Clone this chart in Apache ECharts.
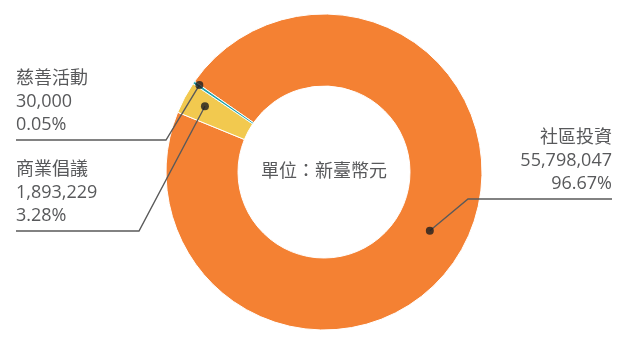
<!DOCTYPE html>
<html>
<head>
<meta charset="utf-8">
<script src="https://cdn.jsdelivr.net/npm/echarts@6/dist/echarts.min.js"></script>
<style>
  html, body { margin: 0; padding: 0; background: #fff; }
  #chart { width: 624px; height: 342px; }
</style>
</head>
<body>
<div id="chart"></div>
<script>
// data
var categories = ['社區投資', '商業倡議', '慈善活動'];
var amounts = [55798047, 1893229, 30000];
var unitText = '單位：新臺幣元';

// layout / style
var sliceColors = ['#F48133', '#F2C94F', '#1FA3AC'];
var CX = 324, CY = 172, R_IN = 86, R_OUT = 158, START = 145;
var dotRadius = [121, 136, 152];
var labelAnchor = [
    { bendX: 468, lineY: 199, endX: 612, side: 'right' },
    { bendX: 139, lineY: 231, endX: 16, side: 'left' },
    { bendX: 166, lineY: 140, endX: 16, side: 'left' }
];
var FONT = '"Open Sans", "Noto Sans CJK TC", sans-serif';
var TEXT = '#58595B';

var total = amounts.reduce(function (a, b) { return a + b; }, 0);
var dots = [];
var acc = 0;
amounts.forEach(function (v, i) {
    dots.push([dotRadius[i], acc + v / 2]);
    acc += v;
});

var chart = echarts.init(document.getElementById('chart'));

function dotPixel(i, p0) {
    var px = null;
    try { px = chart.convertToPixel({ polarIndex: 0 }, dots[i]); } catch (e) { px = null; }
    if (px && isFinite(px[0])) return px;
    var dx = p0[0] - CX, dy = p0[1] - CY, len = Math.sqrt(dx * dx + dy * dy);
    return [CX + dx / len * dotRadius[i], CY + dy / len * dotRadius[i]];
}

var pieBase = {
    type: 'pie',
    center: [CX, CY],
    radius: [R_IN, R_OUT],
    startAngle: START,
    clockwise: true,
    minAngle: 1,
    avoidLabelOverlap: false
};

chart.setOption({
    animation: false,
    polar: { center: [CX, CY], radius: R_OUT },
    angleAxis: { type: 'value', min: 0, max: total, startAngle: START, clockwise: true, show: false },
    radiusAxis: { type: 'value', min: 0, max: R_OUT, show: false },
    graphic: [{
        type: 'text', x: CX, y: CY, z: 20,
        style: { text: unitText, fill: TEXT, fontSize: 18, fontFamily: FONT, textAlign: 'center', textVerticalAlign: 'middle' }
    }],
    series: [
        // the ring itself
        echarts.util.merge({
            z: 2,
            itemStyle: { borderColor: '#fff', borderWidth: 1 },
            label: { show: false },
            labelLine: { show: false },
            data: categories.map(function (c, i) {
                return { name: c, value: amounts[i], itemStyle: { color: sliceColors[i] } };
            })
        }, pieBase),
        // same ring, transparent, only to carry labels + leader lines above the sectors
        echarts.util.merge({
            z: 5,
            silent: true,
            itemStyle: { color: 'rgba(0,0,0,0)', borderWidth: 0 },
            data: categories.map(function (c, i) {
                return { name: c, value: amounts[i] };
            }),
            label: {
                show: true,
                color: TEXT,
                fontSize: 18,
                lineHeight: 23,
                fontFamily: FONT,
                formatter: function (p) {
                    return p.name + '\n' + amounts[p.dataIndex].toLocaleString('en-US') + '\n' + p.percent.toFixed(2) + '%';
                }
            },
            labelLine: { show: true, length: 10, length2: 10, lineStyle: { color: '#5a5a5a', width: 1.4 } },
            labelLayout: function (params) {
                var i = params.dataIndex;
                var a = labelAnchor[i];
                var pts = params.labelLinePoints || [[CX, CY]];
                var start = dotPixel(i, pts[0]);
                return {
                    x: a.endX,
                    y: a.lineY - 4,
                    align: a.side,
                    verticalAlign: 'bottom',
                    labelLinePoints: [start, [a.bendX, a.lineY], [a.endX, a.lineY]]
                };
            }
        }, pieBase),
        {
            type: 'scatter',
            coordinateSystem: 'polar',
            data: dots,
            symbolSize: 8,
            z: 10,
            silent: true,
            itemStyle: { color: '#1e1e1e' }
        }
    ]
});
</script>
</body>
</html>
